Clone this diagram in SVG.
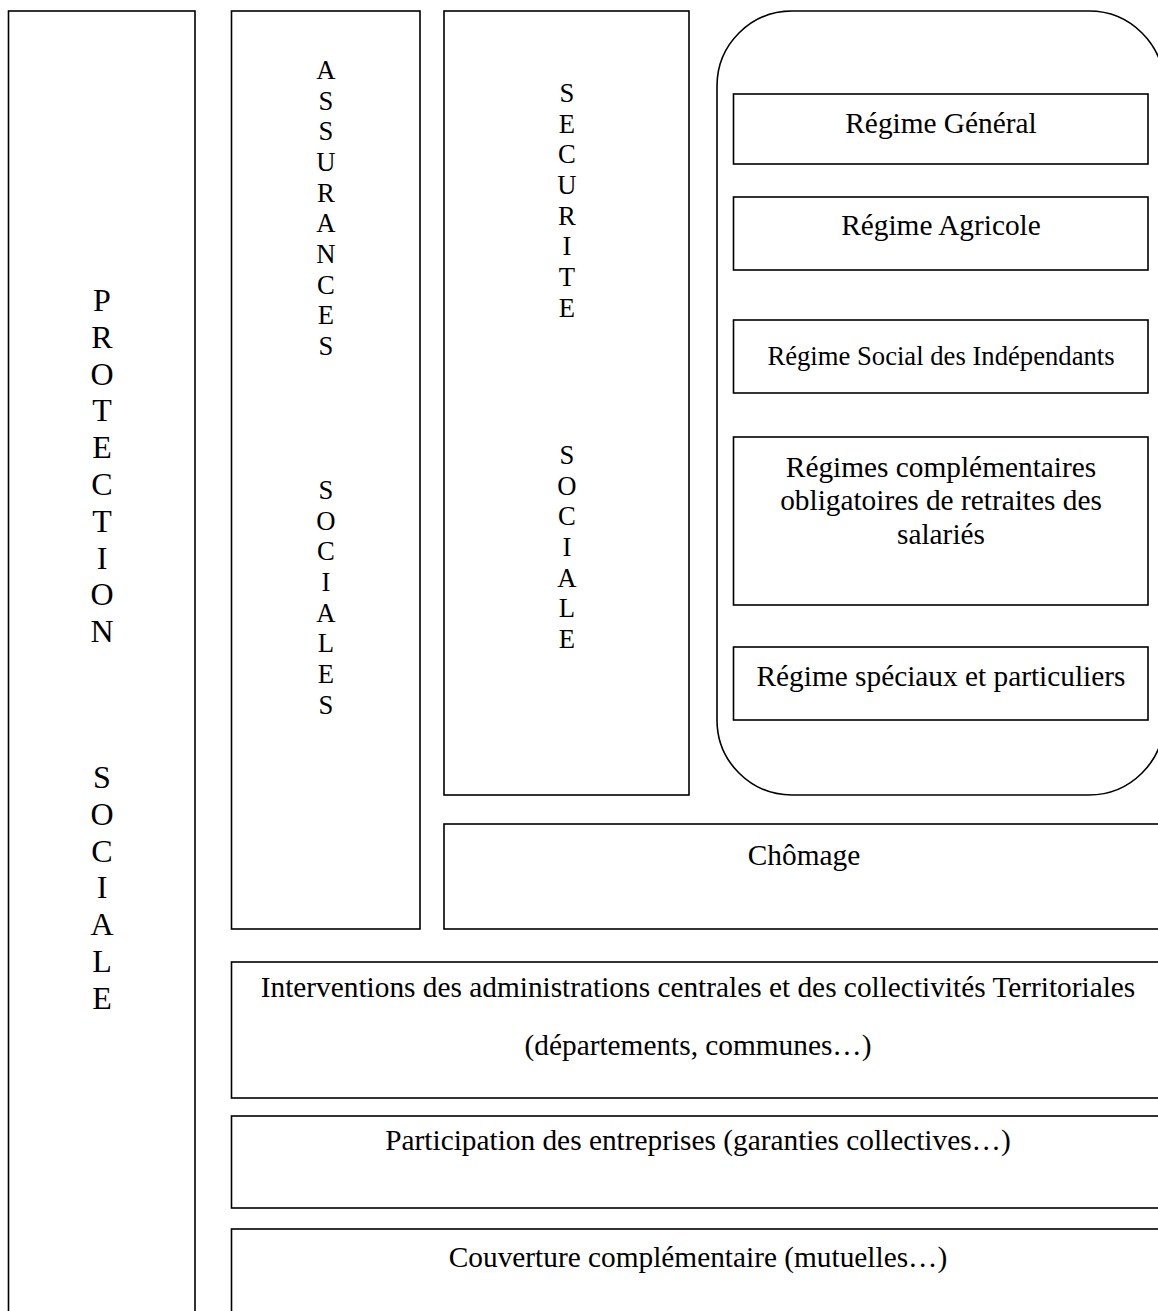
<svg xmlns="http://www.w3.org/2000/svg" width="1158" height="1311" viewBox="0 0 1158 1311">
<style>
.box{fill:#fff;stroke:#000;stroke-width:1.6}
text{font-family:"Liberation Serif","Times New Roman",serif;fill:#000;text-anchor:middle}
.big{font-size:32px}
.v{font-size:26.67px}
.t{font-size:29.33px}
.s{font-size:26.67px}
</style>
<rect width="1158" height="1311" fill="#fff"/>
<g id="protection-sociale">
<rect class="box" x="8.5" y="11" width="186.5" height="1330"/>
<text class="big"><tspan x="102" y="311">P</tspan><tspan x="102" dy="36.8">R</tspan><tspan x="102" dy="36.8">O</tspan><tspan x="102" dy="36.8">T</tspan><tspan x="102" dy="36.8">E</tspan><tspan x="102" dy="36.8">C</tspan><tspan x="102" dy="36.8">T</tspan><tspan x="102" dy="36.8">I</tspan><tspan x="102" dy="36.8">O</tspan><tspan x="102" dy="36.8">N</tspan></text>
<text class="big"><tspan x="102" y="788">S</tspan><tspan x="102" dy="36.8">O</tspan><tspan x="102" dy="36.8">C</tspan><tspan x="102" dy="36.8">I</tspan><tspan x="102" dy="36.8">A</tspan><tspan x="102" dy="36.8">L</tspan><tspan x="102" dy="36.8">E</tspan></text>
</g>
<g id="assurances-sociales">
<rect class="box" x="231.5" y="11" width="188.5" height="918"/>
<text class="v"><tspan x="326" y="79">A</tspan><tspan x="326" dy="30.67">S</tspan><tspan x="326" dy="30.67">S</tspan><tspan x="326" dy="30.67">U</tspan><tspan x="326" dy="30.67">R</tspan><tspan x="326" dy="30.67">A</tspan><tspan x="326" dy="30.67">N</tspan><tspan x="326" dy="30.67">C</tspan><tspan x="326" dy="30.67">E</tspan><tspan x="326" dy="30.67">S</tspan></text>
<text class="v"><tspan x="326" y="499">S</tspan><tspan x="326" dy="30.67">O</tspan><tspan x="326" dy="30.67">C</tspan><tspan x="326" dy="30.67">I</tspan><tspan x="326" dy="30.67">A</tspan><tspan x="326" dy="30.67">L</tspan><tspan x="326" dy="30.67">E</tspan><tspan x="326" dy="30.67">S</tspan></text>
</g>
<g id="securite-sociale">
<rect class="box" x="444" y="11" width="245" height="784"/>
<text class="v"><tspan x="567" y="102">S</tspan><tspan x="567" dy="30.67">E</tspan><tspan x="567" dy="30.67">C</tspan><tspan x="567" dy="30.67">U</tspan><tspan x="567" dy="30.67">R</tspan><tspan x="567" dy="30.67">I</tspan><tspan x="567" dy="30.67">T</tspan><tspan x="567" dy="30.67">E</tspan></text>
<text class="v"><tspan x="567" y="464">S</tspan><tspan x="567" dy="30.67">O</tspan><tspan x="567" dy="30.67">C</tspan><tspan x="567" dy="30.67">I</tspan><tspan x="567" dy="30.67">A</tspan><tspan x="567" dy="30.67">L</tspan><tspan x="567" dy="30.67">E</tspan></text>
</g>
<g id="regimes-group">
<rect class="box" x="717" y="11" width="447" height="784" rx="75" ry="75"/>
</g>
<g id="regime-general">
<rect class="box" x="733.5" y="94" width="414.5" height="70"/>
<text class="t" x="941" y="133">Régime Général</text>
</g>
<g id="regime-agricole">
<rect class="box" x="733.5" y="197" width="414.5" height="73"/>
<text class="t" x="941" y="235">Régime Agricole</text>
</g>
<g id="regime-social-independants">
<rect class="box" x="733.5" y="320" width="414.5" height="73"/>
<text class="s" x="941" y="365">Régime Social des Indépendants</text>
</g>
<g id="regimes-complementaires">
<rect class="box" x="733.5" y="437" width="414.5" height="168"/>
<text class="t"><tspan x="941" y="477">Régimes complémentaires</tspan><tspan x="941" y="510">obligatoires de retraites des</tspan><tspan x="941" y="544">salariés</tspan></text>
</g>
<g id="regime-speciaux">
<rect class="box" x="733.5" y="647" width="414.5" height="73"/>
<text class="t" x="941" y="686">Régime spéciaux et particuliers</text>
</g>
<g id="chomage">
<rect class="box" x="444" y="824" width="721" height="105"/>
<text class="t" x="804" y="865">Chômage</text>
</g>
<g id="interventions">
<rect class="box" x="231.5" y="962" width="933.5" height="136"/>
<text class="t"><tspan x="698" y="997">Interventions des administrations centrales et des collectivités Territoriales</tspan><tspan x="698" y="1055">(départements, communes…)</tspan></text>
</g>
<g id="participation">
<rect class="box" x="231.5" y="1116" width="933.5" height="92"/>
<text class="t" x="698" y="1150">Participation des entreprises (garanties collectives…)</text>
</g>
<g id="couverture">
<rect class="box" x="231.5" y="1229" width="933.5" height="110"/>
<text class="t" x="698" y="1267">Couverture complémentaire (mutuelles…)</text>
</g>
<g id="connectors"></g>
</svg>
